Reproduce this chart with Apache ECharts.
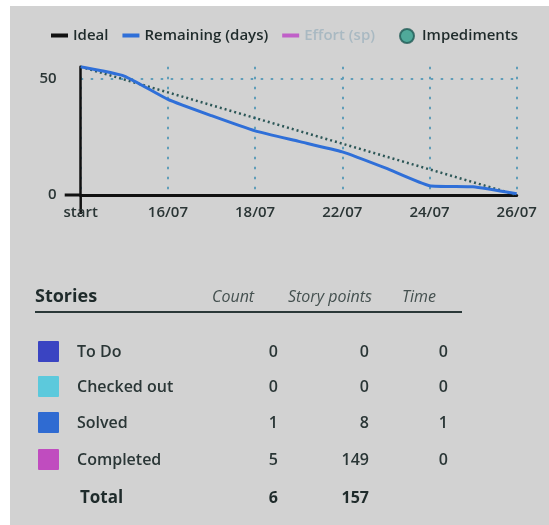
<!DOCTYPE html>
<html><head><meta charset="utf-8">
<script src="https://cdn.jsdelivr.net/npm/echarts@6/dist/echarts.min.js"></script>
<style>
html,body{margin:0;padding:0;background:#fff;width:549px;height:525px;overflow:hidden;}
#bg{position:absolute;left:10px;top:6px;width:539px;height:519px;background:#d2d2d2;}
#c{position:absolute;left:0;top:0;width:549px;height:525px;}
</style></head>
<body><div id="bg"></div><div id="c"></div>
<script>
// ---- data ----
const categories = ['start','15/07','16/07','17/07','18/07','19/07','22/07','23/07','24/07','25/07','26/07'];
const idealValues = [55, 49.5, 44, 38.5, 33, 27.5, 22, 16.5, 11, 5.5, 0];
const remainingValues = [55, 51, 41, 34, 27.5, 23, 18.5, 11.5, 4, 3.5, 0.5];
const effortValues = [];
const impedimentValues = [];
const yTicks = [0, 50];
const storyNames = ['To Do', 'Checked out', 'Solved', 'Completed'];
const storyColors = ['#3a44c2', '#5cc9dc', '#2f6bd2', '#c04cbf'];
const storyCounts = [0, 0, 1, 5];
const storyPoints = [0, 0, 8, 149];
const storyTime = [0, 0, 1, 0];
const totalCount = 6;
const totalPoints = 157;
const tableHeaders = ['Stories', 'Count', 'Story points', 'Time'];

const FF = '"Open Sans", "DejaVu Sans", sans-serif';
const TXT = '#1f2b2b';
const ROW = '#2a3636';
const chart = echarts.init(document.getElementById('c'), null, {renderer:'canvas'});

const rowY = [352, 387, 423, 460];
const g = [];
// header
g.push({type:'text', x:35, y:297, style:{text:tableHeaders[0], font:'bold 18px '+FF, fill:TXT, textVerticalAlign:'middle'}});
g.push({type:'text', x:212, y:297, style:{text:tableHeaders[1], font:'italic 16px '+FF, fill:'#44504f', textVerticalAlign:'middle'}});
g.push({type:'text', x:288, y:297, style:{text:tableHeaders[2], font:'italic 16px '+FF, fill:'#44504f', textVerticalAlign:'middle'}});
g.push({type:'text', x:402, y:297, style:{text:tableHeaders[3], font:'italic 16px '+FF, fill:'#44504f', textVerticalAlign:'middle'}});
g.push({type:'rect', shape:{x:35, y:311, width:427, height:2}, style:{fill:'#2a3838'}});
storyNames.forEach((n,i)=>{
  g.push({type:'rect', shape:{x:38, y:rowY[i]-11, width:21, height:21, r:1}, style:{fill:storyColors[i]}});
  g.push({type:'text', x:77, y:rowY[i], style:{text:n, font:'600 16px '+FF, fill:ROW, textVerticalAlign:'middle'}});
  g.push({type:'text', x:278, y:rowY[i], style:{text:String(storyCounts[i]), font:'600 16px '+FF, fill:ROW, textAlign:'right', textVerticalAlign:'middle'}});
  g.push({type:'text', x:369, y:rowY[i], style:{text:String(storyPoints[i]), font:'600 16px '+FF, fill:ROW, textAlign:'right', textVerticalAlign:'middle'}});
  g.push({type:'text', x:448, y:rowY[i], style:{text:String(storyTime[i]), font:'600 16px '+FF, fill:ROW, textAlign:'right', textVerticalAlign:'middle'}});
});
g.push({type:'text', x:80, y:498, style:{text:'Total', font:'bold 17px '+FF, fill:TXT, textVerticalAlign:'middle'}});
g.push({type:'text', x:278, y:498, style:{text:String(totalCount), font:'bold 16px '+FF, fill:TXT, textAlign:'right', textVerticalAlign:'middle'}});
g.push({type:'text', x:369, y:498, style:{text:String(totalPoints), font:'bold 16px '+FF, fill:TXT, textAlign:'right', textVerticalAlign:'middle'}});

const gridStyle = {color:'#5f9db8', type:[2.5,7.5], width:2};
chart.setOption({
  animation:false,
  backgroundColor:'transparent',
  legend:[{
    left:51, top:28, padding:0, itemWidth:17, itemHeight:4, itemGap:14,
    icon:'rect',
    textStyle:{fontFamily:FF, fontSize:15, fontWeight:600, color:TXT},
    data:[
      {name:'Ideal'},
      {name:'Remaining (days)'},
      {name:'Effort (sp)', textStyle:{color:'#a9b9c2'}}
    ]
  },{
    left:399, top:28, padding:0, itemWidth:14, itemHeight:14, icon:'circle',
    textStyle:{fontFamily:FF, fontSize:15, fontWeight:600, color:TXT, padding:[0,0,0,3]},
    data:[{name:'Impediments'}]
  }],
  grid:{left:80.7, right:32.3, top:66.7, bottom:330},
  xAxis:{
    type:'category', data:categories, boundaryGap:false,
    axisLine:{lineStyle:{color:'#111', width:3}},
    axisTick:{show:false},
    axisLabel:{interval:1, margin:10, fontFamily:FF, fontSize:15, fontWeight:600, color:'#2a3535'},
    splitLine:{show:true, interval:1, lineStyle:gridStyle}
  },
  yAxis:{
    type:'value', min:0, max:55, interval:50,
    axisLine:{show:true, lineStyle:{color:'#111', width:2.5}},
    axisTick:{show:false},
    axisLabel:{showMaxLabel:false, margin:24, fontFamily:FF, fontSize:15, fontWeight:600, color:'#2a3535'},
    splitLine:{show:true, showMaxLine:false, lineStyle:gridStyle}
  },
  series:[
    {name:'Ideal', type:'line', data:idealValues, symbol:'none', color:'#111',
     lineStyle:{color:'#2d5757', type:[2,3], width:2.5}, z:3},
    {name:'Remaining (days)', type:'line', data:remainingValues, symbol:'none', color:'#2f6fd8', smooth:0.15,
     lineStyle:{color:'#2f6fd8', width:3}, z:4},
    {name:'Effort (sp)', type:'line', data:effortValues, symbol:'none', color:'#c060c8'},
    {name:'Impediments', type:'scatter', data:impedimentValues, color:'#2f9f8c',
     itemStyle:{color:'#2f9f8c', borderColor:'#1f5a55', borderWidth:1.5}}
  ],
  graphic:g
});
// axis extensions
const p0 = chart.convertToPixel({gridIndex:0}, [categories[0], yTicks[0]]);
chart.setOption({graphic:g.concat([
  {type:'line', shape:{x1:p0[0]-16, y1:p0[1], x2:p0[0], y2:p0[1]}, style:{stroke:'#111', lineWidth:3}},
  {type:'line', shape:{x1:p0[0], y1:p0[1], x2:p0[0], y2:p0[1]+19}, style:{stroke:'#111', lineWidth:2.5}}
])});
</script></body></html>
